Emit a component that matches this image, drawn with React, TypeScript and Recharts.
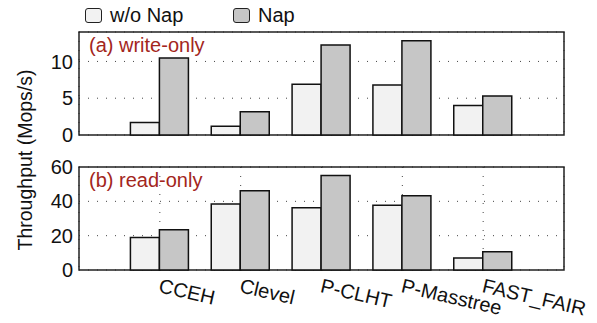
import { BarChart, Bar, XAxis, YAxis, CartesianGrid, ReferenceArea, Legend } from 'recharts'

const systems = ['CCEH', 'Clevel', 'P-CLHT', 'P-Masstree', 'FAST_FAIR']
const seriesNames = ['w/o Nap', 'Nap']
const writeWithoutNap = [1.7, 1.2, 6.9, 6.8, 4.0]
const writeNap = [10.45, 3.15, 12.25, 12.8, 5.3]
const readWithoutNap = [19, 38.5, 36.2, 37.7, 7]
const readNap = [23.5, 46.2, 55, 43.3, 10.7]
const writeTicks = [0, 5, 10]
const readTicks = [0, 20, 40, 60]

const FONT = '"Liberation Sans", Arial, Helvetica, sans-serif'
const LIGHT = '#f2f2f2'
const DARK = '#c6c6c6'
const LABEL_RED = '#a3261c'

const writeRows = systems.map((name, i) => ({ pos: i, name, base: writeWithoutNap[i], nap: writeNap[i] }))
const readRows = systems.map((name, i) => ({ pos: i, name, base: readWithoutNap[i], nap: readNap[i] }))

const tickStyle = { fontSize: 20, fill: '#111', fontFamily: FONT }

function renderLegend(props: any) {
  // keep series order instead of the alphabetical default
  const items = [...(props.payload || [])].sort(
    (a: any, b: any) => seriesNames.indexOf(a.value) - seriesNames.indexOf(b.value)
  )
  return (
    <div style={{ display: 'flex', fontFamily: FONT, fontSize: 20, color: '#111' }}>
      {items.map((item: any) => (
        <div key={item.value} style={{ display: 'flex', alignItems: 'center', width: 148 }}>
          <span
            style={{
              display: 'inline-block',
              width: 15,
              height: 13,
              background: item.color,
              border: '1.2px solid #222',
              borderRadius: 3,
              marginRight: 8,
            }}
          />
          <span>{item.value}</span>
        </div>
      ))}
    </div>
  )
}

function SlantedTick({ x, y, payload }: any) {
  const tx = x - 2
  const ty = y + 22
  return (
    <text x={tx} y={ty} transform={`rotate(13, ${tx}, ${ty})`} textAnchor="start" style={tickStyle}>
      {systems[payload.value]}
    </text>
  )
}

function panelLabel(text: string) {
  return (props: any) => {
    const { x, y } = props.viewBox
    return (
      <text x={x + 10} y={y + 20} fill={LABEL_RED} fontSize={20} fontFamily={FONT}>
        {text}
      </text>
    )
  }
}

export default function App() {
  return (
    <div style={{ position: 'absolute', left: 0, top: 0, width: 597, height: 323, background: '#fff' }}>
      <svg width={40} height={323} style={{ position: 'absolute', left: 0, top: 0 }}>
        <text
          x={-160}
          y={31.5}
          transform="rotate(-90)"
          textAnchor="middle"
          fontSize={19.5}
          fontFamily={FONT}
          fill="#111"
        >
          Throughput (Mops/s)
        </text>
      </svg>

      <div style={{ position: 'absolute', left: 0, top: 0 }}>
        <BarChart
          width={597}
          height={150}
          data={writeRows}
          margin={{ top: 32, right: 33, left: 39, bottom: 15 }}
          barGap={0}
          barSize={29}
        >
          <CartesianGrid stroke="#444" strokeDasharray="1 8" />
          <XAxis
            type="number"
            dataKey="pos"
            domain={[-1, 5]}
            ticks={[0, 1, 2, 3, 4]}
            height={0}
            tick={false}
            axisLine={false}
            tickLine={false}
          />
          <YAxis
            width={40}
            domain={[0, 14]}
            ticks={writeTicks}
            tick={tickStyle}
            tickSize={0}
            tickMargin={6}
            axisLine={false}
            tickLine={false}
          />
          <Legend
            verticalAlign="middle"
            align="center"
            content={renderLegend}
            wrapperStyle={{ top: 4, left: 85, width: 320 }}
          />
          <Bar dataKey="base" name={seriesNames[0]} fill={LIGHT} stroke="#111" strokeWidth={1.5} isAnimationActive={false} />
          <Bar dataKey="nap" name={seriesNames[1]} fill={DARK} stroke="#111" strokeWidth={1.5} isAnimationActive={false} />
          <ReferenceArea
            x1={-1}
            x2={5}
            y1={0}
            y2={14}
            fill="none"
            stroke="#222"
            strokeWidth={1.5}
            label={panelLabel('(a) write-only')}
          />
        </BarChart>
      </div>

      <div style={{ position: 'absolute', left: 0, top: 150 }}>
        <BarChart
          width={597}
          height={173}
          data={readRows}
          margin={{ top: 17, right: 33, left: 39, bottom: 3 }}
          barGap={0}
          barSize={29}
        >
          <CartesianGrid stroke="#444" strokeDasharray="1 8" />
          <XAxis
            type="number"
            dataKey="pos"
            domain={[-1, 5]}
            ticks={[0, 1, 2, 3, 4]}
            interval={0}
            height={50}
            tick={<SlantedTick />}
            tickSize={0}
            tickMargin={0}
            axisLine={false}
            tickLine={false}
          />
          <YAxis
            width={40}
            domain={[0, 60]}
            ticks={readTicks}
            tick={tickStyle}
            tickSize={0}
            tickMargin={6}
            axisLine={false}
            tickLine={false}
          />
          <Bar dataKey="base" name={seriesNames[0]} fill={LIGHT} stroke="#111" strokeWidth={1.5} isAnimationActive={false} />
          <Bar dataKey="nap" name={seriesNames[1]} fill={DARK} stroke="#111" strokeWidth={1.5} isAnimationActive={false} />
          <ReferenceArea
            x1={-1}
            x2={5}
            y1={0}
            y2={60}
            fill="none"
            stroke="#222"
            strokeWidth={1.5}
            label={panelLabel('(b) read-only')}
          />
        </BarChart>
      </div>
    </div>
  )
}
